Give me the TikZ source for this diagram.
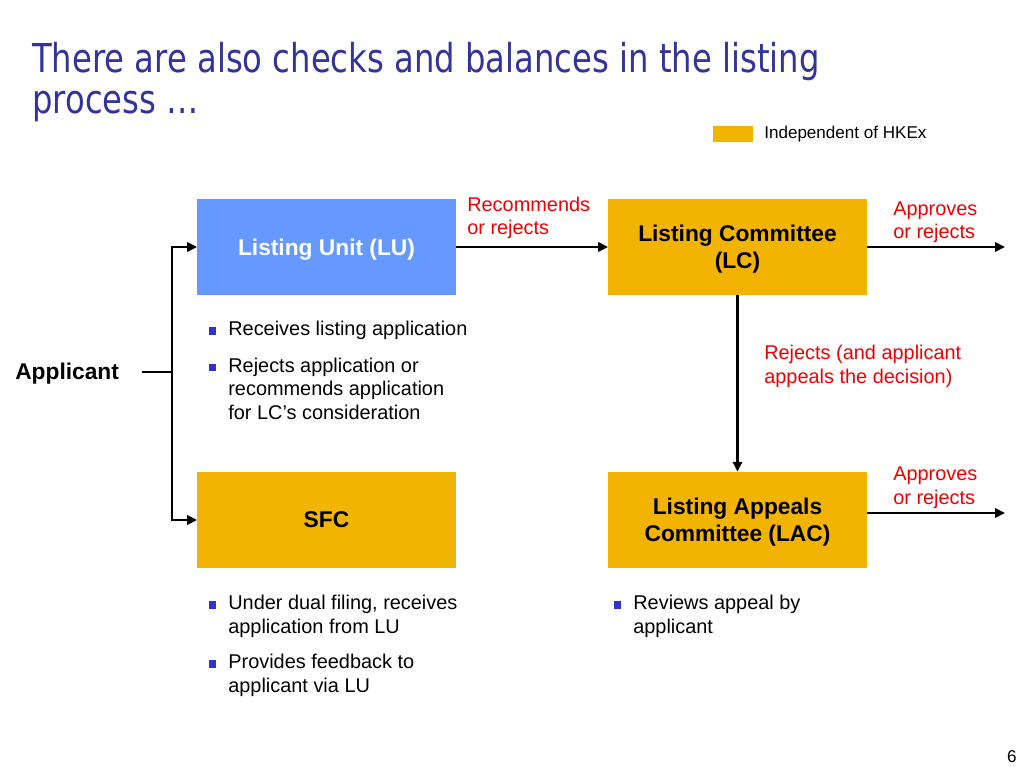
\documentclass[tikz,border=0pt]{standalone}
\usepackage{fontspec}
\setmainfont{Liberation Sans}
\newfontfamily\titlefont{DejaVu Sans}[FakeStretch=0.81]
\usetikzlibrary{arrows.meta}
\definecolor{titleblue}{HTML}{333399}
\definecolor{bulblue}{HTML}{3333CC}
\definecolor{lublue}{HTML}{6699FF}
\definecolor{hkorange}{HTML}{F2B400}
\definecolor{lblred}{HTML}{EE0000}
\newcommand\bsq{\makebox[13.4pt][l]{\textcolor{bulblue}{\rule[1pt]{5pt}{5pt}}}}
\newcommand\bind{\hspace*{13.4pt}}
\begin{document}
\begin{tikzpicture}[x=0.703125pt, y=-0.703125pt,
  box/.style={minimum width=181.5pt, minimum height=67.5pt, inner sep=0pt,
    font=\bfseries\fontsize{16}{19}\selectfont, align=center},
  lowtext/.style={text depth=-0.8pt},
  lbl/.style={text=lblred, font=\fontsize{14}{16.2}\selectfont, align=left,
    inner sep=0pt, anchor=base west},
  item/.style={font=\fontsize{14}{16.2}\selectfont, align=left,
    inner sep=0pt, anchor=base west},
  conn/.style={line width=2pt, -{Triangle[length=7pt,width=6.5pt]}},
  plain/.style={line width=2pt}]
\useasboundingbox (0,0) rectangle (1024,768);
% title (base = baseline of last line)
\node[anchor=base west, inner sep=0pt, text=titleblue, align=left,
  font=\titlefont\fontsize{28}{29.5}\selectfont] (title) at (32,114)
  {There are also checks and balances in the listing\\process …};
% legend
\node[anchor=north west, fill=hkorange, inner sep=0pt, minimum width=28.1pt,
  minimum height=11.25pt] (legbox) at (713,126) {};
\node[anchor=base west, inner sep=0pt, font=\fontsize{12}{14}\selectfont]
  (legtext) at (764,138.5) {Independent of HKEx};
% boxes
\node[box, lowtext, fill=lublue, text=white] (lu) at (326.5,247) {Listing Unit (LU)};
\node[box, lowtext, fill=hkorange] (lc) at (737.5,247) {Listing Committee\\(LC)};
\node[box, fill=hkorange] (sfc) at (326.5,520) {SFC};
\node[box, lowtext, fill=hkorange] (lac) at (737.5,520) {Listing Appeals\\Committee (LAC)};
% applicant
\node[anchor=base west, inner sep=0pt, font=\bfseries\fontsize{16}{19}\selectfont]
  (applicant) at (15,379) {Applicant};
\coordinate (aout) at (142,372);
\coordinate (bus) at (172,372);
\coordinate (lcout) at (1005,247);
\coordinate (lacout) at (1005,513);
% connectors
\draw[plain] (aout) -- (bus);
\draw[conn] (bus) |- (lu.west);
\draw[conn] (bus) |- (sfc.west);
\draw[conn] (lu.east) -- (lc.west);
\draw[conn] (lc.east) -- (lcout);
\draw[conn] (lc.south) -- (lac.north);
\draw[conn] (lac.east |- lacout) -- (lacout);
% labels (base = baseline of last line)
\node[lbl] (rec) at (467,235) {Recommends\\or rejects};
\node[lbl] (app1) at (893,239) {Approves\\or rejects};
\node[lbl] (rej) at (764,383) {Rejects (and applicant\\appeals the decision)};
\node[lbl] (app2) at (893,504) {Approves\\or rejects};
% bullets
\node[item] (lub1) at (209,336) {\bsq Receives listing application};
\node[item] (lub2) at (209,419) {\bsq Rejects application or\\\bind recommends application\\\bind for LC’s consideration};
\node[item] (sfb1) at (209,633) {\bsq Under dual filing, receives\\\bind application from LU};
\node[item] (sfb2) at (209,692) {\bsq Provides feedback to\\\bind applicant via LU};
\node[item] (lacb1) at (614,633) {\bsq Reviews appeal by\\\bind applicant};
% page number
\node[anchor=base east, inner sep=0pt, font=\fontsize{12}{14}\selectfont] (pg) at (1017,762) {6};
\end{tikzpicture}
\end{document}
